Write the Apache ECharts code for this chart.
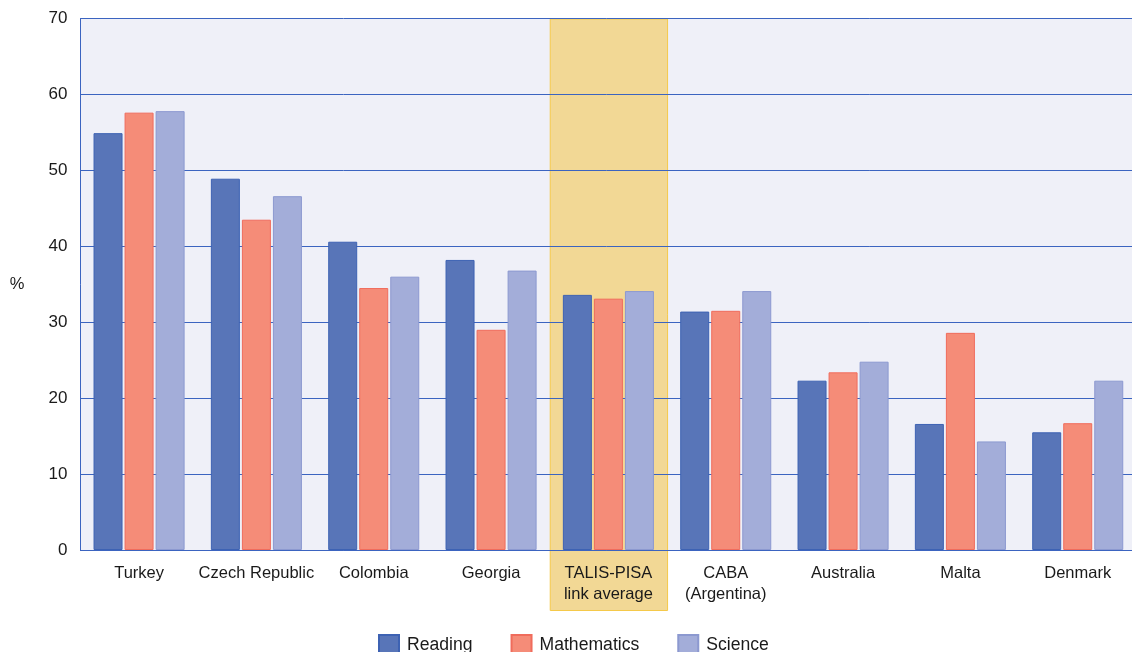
<!DOCTYPE html>
<html><head><meta charset="utf-8">
<script src="https://cdn.jsdelivr.net/npm/echarts@6/dist/echarts.min.js"></script>
<style>html,body{margin:0;padding:0;background:#fff}#c{width:1132px;height:652px}</style>
</head><body><div id="c"></div>
<script>
const categories = ['Turkey','Czech Republic','Colombia','Georgia','TALIS-PISA\nlink average','CABA\n(Argentina)','Australia','Malta','Denmark'];
const reading = [54.9, 48.9, 40.6, 38.2, 33.6, 31.4, 22.3, 16.6, 15.5];
const mathematics = [57.6, 43.5, 34.5, 29.0, 33.1, 31.5, 23.4, 28.6, 16.7];
const science = [57.8, 46.6, 36.0, 36.8, 34.1, 34.1, 24.8, 14.3, 22.3];
const yTicks = [0, 10, 20, 30, 40, 50, 60, 70];
const highlightIndex = 4;

const font = '"Liberation Sans", Arial, Helvetica, sans-serif';
const chart = echarts.init(document.getElementById('c'), null, {renderer: 'canvas'});
const gridTop = 18.5, gridBottom = 102, gridLeft = 80.4;
const option = {
  animation: false,
  textStyle: {fontFamily: font},
  grid: {left: gridLeft, width: 1056, top: gridTop, bottom: gridBottom, show: false,
         containLabel: false, outerBoundsMode: 'none'},
  legend: {
    bottom: -9, left: 373,
    icon: 'rect',
    itemWidth: 20, itemHeight: 20, itemGap: 38,
    textStyle: {fontSize: 17.6, color: '#1a1a1a', fontFamily: font, padding: [0,0,0,3]},
    data: ['Reading','Mathematics','Science']
  },
  xAxis: {
    type: 'category', data: categories,
    axisLine: {show: true, lineStyle: {color: '#3b64c0', width: 1}},
    axisTick: {show: false},
    axisLabel: {fontSize: 16.5, color: '#1a1a1a', margin: 13, lineHeight: 21, interval: 0, fontFamily: font}
  },
  yAxis: {
    type: 'value', min: yTicks[0], max: yTicks[yTicks.length-1], interval: 10,
    name: '%', nameLocation: 'middle', nameRotate: 0, nameGap: 56,
    nameTextStyle: {fontSize: 16.5, color: '#1a1a1a', fontFamily: font, padding: [6,0,0,0]},
    axisLine: {show: true, lineStyle: {color: '#3b64c0', width: 1}},
    axisTick: {show: false},
    axisLabel: {fontSize: 17, color: '#1a1a1a', margin: 13, fontFamily: font},
    splitLine: {show: true, lineStyle: {color: '#3b64c0', width: 1}}
  },
  series: [
    {name: 'Reading', type: 'bar', data: reading, barWidth: 29, barGap: '7%',
     itemStyle: {color: '#5875b8', borderColor: '#3d62b3', borderWidth: 1}},
    {name: 'Mathematics', type: 'bar', data: mathematics, barWidth: 29, barGap: '7%',
     itemStyle: {color: '#f58c78', borderColor: '#f06c5c', borderWidth: 1}},
    {name: 'Science', type: 'bar', data: science, barWidth: 29, barGap: '7%',
     itemStyle: {color: '#a3add9', borderColor: '#8c99d0', borderWidth: 1}}
  ]
};
chart.setOption(option);

function addDecor() {
  const x0 = chart.convertToPixel({xAxisIndex: 0}, 0);
  const x1 = chart.convertToPixel({xAxisIndex: 0}, 1);
  const step = x1 - x0;
  const yTop = chart.convertToPixel({yAxisIndex: 0}, yTicks[yTicks.length-1]);
  const yBot = chart.convertToPixel({yAxisIndex: 0}, yTicks[0]);
  const left = x0 - step/2;
  const right = x0 + step * (categories.length - 0.5);
  const hx = chart.convertToPixel({xAxisIndex: 0}, highlightIndex) - step/2;
  chart.setOption({
    graphic: [
      {type: 'rect', z: -10, silent: true,
       shape: {x: left, y: yTop, width: right - left, height: yBot - yTop},
       style: {fill: '#eff0f8'}},
      {type: 'rect', z: -9, silent: true,
       shape: {x: hx + 0.5, y: yTop + 0.5, width: step, height: 610 - yTop},
       style: {fill: '#f2d895', stroke: '#f5c94a', lineWidth: 1}}
    ]
  });
}
addDecor();
</script></body></html>
